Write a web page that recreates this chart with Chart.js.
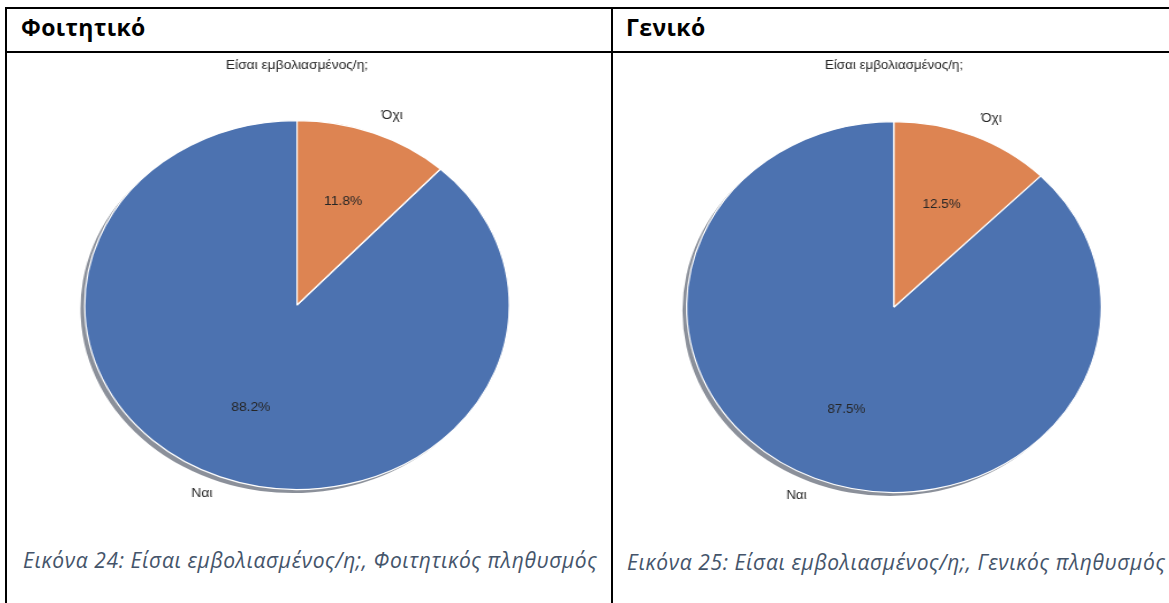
<!DOCTYPE html>
<html>
<head>
<meta charset="utf-8">
<script src="https://cdn.jsdelivr.net/npm/chart.js@4.4.0/dist/chart.umd.min.js"></script>
<style>
  body { margin: 0; background: #fff; }
  #page { position: relative; width: 1169px; height: 603px; overflow: hidden; background: #fff; }
  .line { position: absolute; background: #000; }
  .head { position: absolute; font-family: "Open Sans", sans-serif; font-weight: bold; font-size: 23px; letter-spacing: 0.4px; color: #000; line-height: 1; }
  .caption { position: absolute; font-family: "Open Sans", sans-serif; font-style: italic; font-size: 21px; letter-spacing: 0.6px; color: #44546a; line-height: 1; white-space: nowrap; }
  .wrap { position: absolute; transform-origin: 0 0; }
  canvas { display: block; }
</style>
</head>
<body>
<div id="page">
  <div class="line" style="left:5px; top:7px; width:1164px; height:2px;"></div>
  <div class="line" style="left:5px; top:7px; width:2px; height:596px;"></div>
  <div class="line" style="left:611px; top:7px; width:2px; height:596px;"></div>
  <div class="line" style="left:5px; top:51px; width:1164px; height:2px;"></div>

  <div class="head" style="left:21px; top:16px;">Φοιτητικό</div>
  <div class="head" style="left:626px; top:16px;">Γενικό</div>

  <div class="wrap" id="wrap1" style="left:20px; top:50px;"><canvas id="pie1" width="504" height="460"></canvas></div>
  <div class="wrap" id="wrap2" style="left:620px; top:50px;"><canvas id="pie2" width="491" height="463"></canvas></div>

  <div class="caption" style="left:23px; top:550px;">Εικόνα 24: Είσαι εμβολιασμένος/η;, Φοιτητικός πληθυσμός</div>
  <div class="caption" style="left:627px; top:552px;">Εικόνα 25: Είσαι εμβολιασμένος/η;, Γενικός πληθυσμός</div>
</div>

<script>
// Δεδομένα
const categories = ['Ναι', 'Όχι'];
const studentValues = [88.2, 11.8];
const generalValues = [87.5, 12.5];
const chartTitle = 'Είσαι εμβολιασμένος/η;';
const sliceColors = ['#4c72b0', '#dd8452'];
const shadowColors = ['rgba(23,34,53,0.5)', 'rgba(66,40,25,0.5)'];

// σκιά και ετικέτες όπως στο matplotlib
const pieDecor = {
    id: 'pieDecor',
    beforeDatasetsDraw(chart) {
        const ctx = chart.ctx;
        const arcs = chart.getDatasetMeta(0).data;
        ctx.save();
        arcs.forEach(function(a, i) {
            const r = a.outerRadius;
            ctx.beginPath();
            ctx.moveTo(a.x - 0.02 * r, a.y + 0.02 * r);
            ctx.arc(a.x - 0.02 * r, a.y + 0.02 * r, r, a.startAngle, a.endAngle);
            ctx.closePath();
            ctx.fillStyle = shadowColors[i];
            ctx.fill();
        });
        ctx.restore();
    },
    afterDatasetsDraw(chart) {
        const ctx = chart.ctx;
        const data = chart.data.datasets[0].data;
        const total = data.reduce((s, v) => s + v, 0);
        const arcs = chart.getDatasetMeta(0).data;
        ctx.save();
        ctx.font = '12px "Liberation Sans", Arial, sans-serif';
        ctx.fillStyle = '#262626';
        ctx.textBaseline = 'middle';
        arcs.forEach(function(a, i) {
            const mid = (a.startAngle + a.endAngle) / 2;
            const r = a.outerRadius;
            const c = Math.cos(mid), s = Math.sin(mid);
            ctx.textAlign = 'center';
            ctx.fillText((100 * data[i] / total).toFixed(1) + '%', a.x + 0.6 * r * c, a.y + 0.6 * r * s);
            ctx.textAlign = c >= 0 ? 'left' : 'right';
            ctx.fillText(chart.data.labels[i], a.x + 1.1 * r * c, a.y + 1.1 * r * s);
        });
        ctx.restore();
    }
};

function makePie(id, wrapId, values, sx, padRight, titleGap) {
    const total = values.reduce((s, v) => s + v, 0);
    document.getElementById(wrapId).style.transform = 'scaleX(' + sx + ')';
    return new Chart(document.getElementById(id), {
        type: 'pie',
        data: {
            labels: categories,
            datasets: [{
                data: values,
                backgroundColor: sliceColors,
                borderColor: '#ffffff',
                borderWidth: 1.2
            }]
        },
        options: {
            responsive: false,
            animation: false,
            rotation: 360 * values[1] / total,
            layout: { padding: { left: 0, right: padRight, top: 0, bottom: 20 } },
            plugins: {
                legend: { display: false },
                tooltip: { enabled: false },
                title: {
                    display: true,
                    text: chartTitle,
                    color: '#262626',
                    font: { family: '"Liberation Sans", Arial, sans-serif', size: 12, weight: 'normal' },
                    padding: { top: 8, bottom: titleGap }
                },
                pieDecor: {}
            }
        },
        plugins: [pieDecor]
    });
}

makePie('pie1', 'wrap1', studentValues, 1.1514, 22.8, 47.6);
makePie('pie2', 'wrap2', generalValues, 1.1183, 1, 48.6);
</script>
</body>
</html>
